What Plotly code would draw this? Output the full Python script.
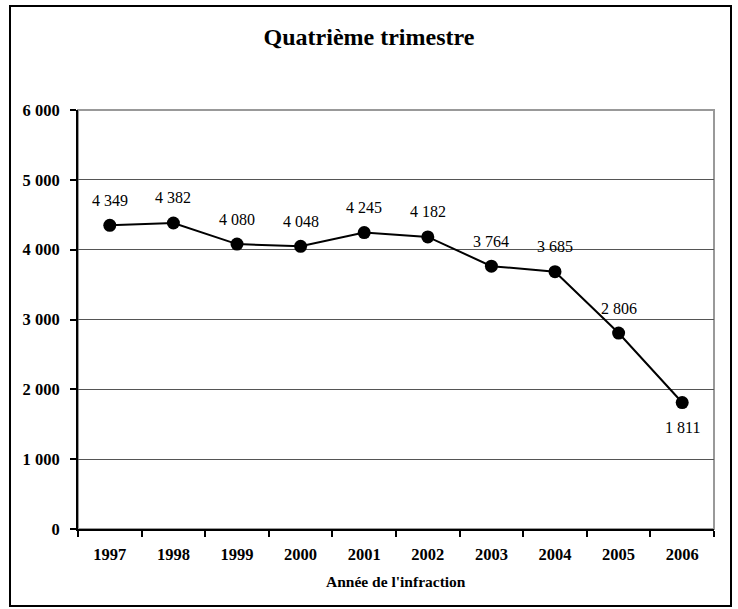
import plotly.graph_objects as go

years = ["1997", "1998", "1999", "2000", "2001", "2002", "2003", "2004", "2005", "2006"]
values = [4349, 4382, 4080, 4048, 4245, 4182, 3764, 3685, 2806, 1811]
label_pos = ["above", "above", "above", "above", "above", "above", "above", "above", "above", "below"]
y_ticks = [0, 1000, 2000, 3000, 4000, 5000, 6000]

title_text = "Quatrième trimestre"
x_title = "Année de l'infraction"

FONT = "Liberation Serif, Times New Roman, serif"

def fmt(v):
    return f"{v:,}".replace(",", " ")

W, H = 738, 609
L, R, T, B = 78, 24, 110, 80
pw, ph = W - L - R, H - T - B

fig = go.Figure()
fig.add_trace(go.Scatter(
    x=years, y=values, mode="lines+markers",
    line=dict(color="black", width=2),
    marker=dict(color="black", size=13),
    hoverinfo="x+y", showlegend=False,
))

annotations = []
for i, (v, p) in enumerate(zip(values, label_pos)):
    annotations.append(dict(
        x=i, y=v, xref="x", yref="y", text=fmt(v), showarrow=False,
        yshift=25 if p == "above" else -25,
        font=dict(family=FONT, size=16, color="black"),
        xanchor="center", yanchor="middle",
    ))
annotations.append(dict(
    x=0.5, y=(-(581 - (H - B))) / ph, xref="paper", yref="paper",
    text=f"<b>{x_title}</b>", showarrow=False,
    font=dict(family=FONT, size=15.5, color="black"),
    xanchor="center", yanchor="middle",
))

shapes = [
    dict(type="rect", xref="paper", yref="paper", x0=0, x1=1, y0=0, y1=1,
         line=dict(color="#999999", width=2), layer="below"),
    dict(type="rect", xref="paper", yref="paper",
         x0=(10 - L) / pw, x1=(731 - L) / pw,
         y0=((H - B) - 606) / ph, y1=((H - B) - 6) / ph,
         line=dict(color="black", width=2), layer="below"),
]

fig.update_layout(
    width=W, height=H,
    margin=dict(l=L, r=R, t=T, b=B, pad=0),
    paper_bgcolor="white", plot_bgcolor="white",
    title=dict(text=f"<b>{title_text}</b>", x=0.5, xref="container", xanchor="center",
               y=1 - 37 / H, yref="container", yanchor="middle",
               font=dict(family=FONT, size=24, color="black")),
    xaxis=dict(
        type="category", categoryorder="array", categoryarray=years,
        tickson="boundaries", ticks="outside", ticklen=6, tickwidth=1.5, tickcolor="black",
        showline=True, linecolor="black", linewidth=2, showgrid=False,
        tickmode="array", tickvals=years, ticktext=[f"<b>{y}</b>" for y in years],
        tickfont=dict(family=FONT, size=16.5, color="black"),
        ticklabelstandoff=9,
        range=[-0.5, len(years) - 0.5], fixedrange=True,
    ),
    yaxis=dict(
        range=[0, 6000], tickmode="array", tickvals=y_ticks,
        ticktext=[f"<b>{fmt(v)}</b>" for v in y_ticks],
        ticks="outside", ticklen=6, tickwidth=1.5, tickcolor="black",
        showline=True, linecolor="black", linewidth=2,
        showgrid=True, gridcolor="#555555", gridwidth=1,
        zeroline=False,
        tickfont=dict(family=FONT, size=16.5, color="black"),
        ticklabelstandoff=7,
        fixedrange=True,
    ),
    annotations=annotations,
    shapes=shapes,
)

fig.write_html("out.html", config={"displayModeBar": False},
               post_script="document.body.style.margin='0';document.body.style.overflow='hidden';")
